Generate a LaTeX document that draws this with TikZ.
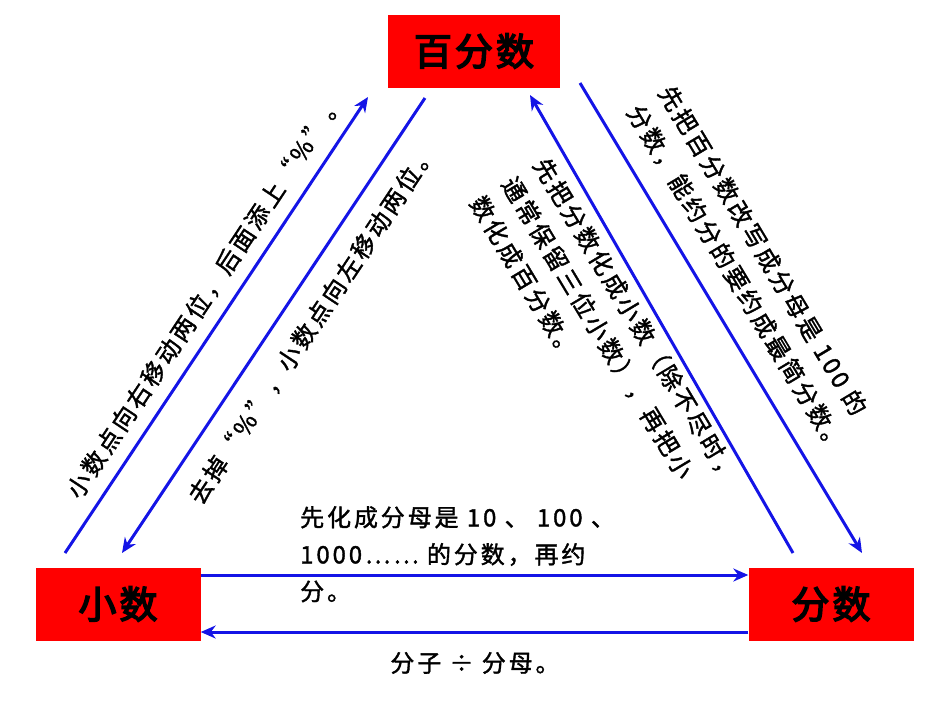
\documentclass[tikz,border=0pt]{standalone}
\usepackage{fontspec}
\newfontfamily\cjk[FakeBold=1.5,LetterSpace=12]{Noto Sans CJK SC}
\newfontfamily\cjkb[FakeBold=4,LetterSpace=8]{Noto Sans CJK SC}
\usetikzlibrary{arrows.meta}
\tikzset{
  redbox/.style={fill=red, draw=none, minimum width=172pt, minimum height=73pt, font=\cjkb\fontsize{38}{40}\selectfont},
  blueline/.style={draw={rgb,255:red,20;green,20;blue,230}, line width=3pt, -{Stealth[length=15pt,width=13pt]}},
  note/.style={font=\cjk\fontsize{24}{37}\selectfont, inner sep=0pt, align=left}
}
\begin{document}
\begin{tikzpicture}[x=1pt,y=-1pt]
\useasboundingbox (0,0) rectangle (950,713);
% boxes
\node[redbox] (bfs) at (474,51) {百分数};
\node[redbox, minimum width=165pt] (xs) at (118,604) {小数};
\node[redbox, minimum width=165pt] (fs) at (831,604) {分数};
% arrow ends
\coordinate (a1) at (65,553);  \coordinate (a2) at (368,97);
\coordinate (b1) at (425,98);  \coordinate (b2) at (122,553);
\coordinate (c1) at (580,83);  \coordinate (c2) at (862,553);
\coordinate (d1) at (793,553); \coordinate (d2) at (530,95);
% arrows
\draw[blueline] (a1) -- (a2);
\draw[blueline] (b1) -- (b2);
\draw[blueline] (c1) -- (c2);
\draw[blueline] (d1) -- (d2);
\draw[blueline] (xs.east |- 0,575) -- (fs.west |- 0,575);
\draw[blueline] (fs.west |- 0,632) -- (xs.east |- 0,632);
% labels
\node[note, rotate=56.4] (t1) at (205,296) {小数点向右移动两位，后面添上“\%”。};
\node[note, rotate=56.4] (t2) at (312,324) {去掉“\%”，小数点向左移动两位。};
\node[note, rotate=-59, anchor=north west] (t3) at (675,82) {先把百分数改写成分母是 100 的\\分数，能约分的要约成最简分数。};
\node[note, rotate=-59, anchor=north west] (t4) at (550,154) {先把分数化成小数（除不尽时，\\通常保留三位小数），再把小\\数化成百分数。};
\node[note, anchor=north west] (t5) at (300,506) {先化成分母是 10 、 100 、\\1000…… 的分数，再约\\分。};
\node[note] (t6) at (475,663) {分子 ÷ 分母。};
\end{tikzpicture}
\end{document}
